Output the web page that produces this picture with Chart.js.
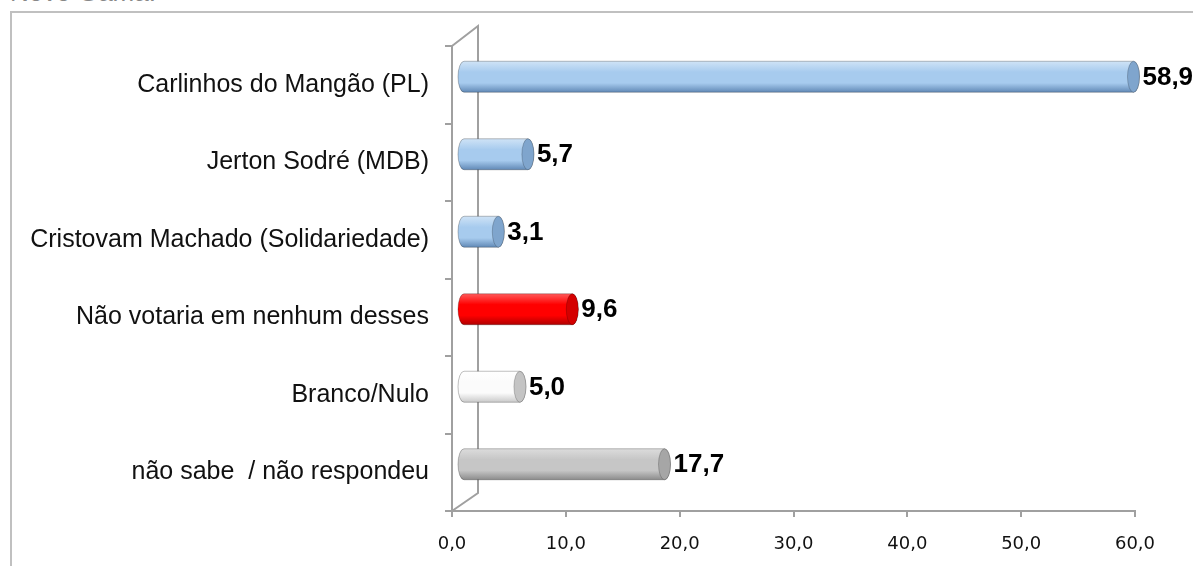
<!DOCTYPE html>
<html>
<head>
<meta charset="utf-8">
<script src="https://cdn.jsdelivr.net/npm/chart.js@4"></script>
<style>
  body { margin: 0; background: #fff; overflow: hidden; }
  #wrap { position: relative; width: 1193px; height: 566px; overflow: hidden; }
  #frame { position: absolute; left: 10px; top: 11px; width: 1300px; height: 700px; border: 2px solid #c0c0c0; }
  #title { position: absolute; left: 10px; top: -23px; font: 26px "Liberation Sans", Arial, sans-serif; color: #888; }
  canvas { position: absolute; left: 0; top: 0; }
</style>
</head>
<body>
<div id="wrap">
  <div id="title">Novo Gama:</div>
  <div id="frame"></div>
  <canvas id="grafico" width="1193" height="566"></canvas>
</div>
<script>
// dados
const categorias = [
  'Carlinhos do Mangão (PL)',
  'Jerton Sodré (MDB)',
  'Cristovam Machado (Solidariedade)',
  'Não votaria em nenhum desses',
  'Branco/Nulo',
  'não sabe  / não respondeu'
];
const valores = [58.9, 5.7, 3.1, 9.6, 5.0, 17.7];
const escalaX = [0, 10, 20, 30, 40, 50, 60];

// cores do cilindro: [topo, meio, base, tampa]
const azul = ['#cfe3f6', '#a7cbee', '#6189b6', '#7fa5cd'];
const vermelho = ['#ff5a5a', '#ff0000', '#b00000', '#d40000'];
const branco = ['#ffffff', '#fbfbfb', '#c9c9c9', '#c4c4c4'];
const cinza = ['#dcdcdc', '#c6c6c6', '#8c8c8c', '#a6a6a6'];
const coresBarras = [azul, azul, azul, vermelho, branco, cinza];

const fmt = v => v.toFixed(1).replace('.', ',');

const DX = 11, DY = -8;      // deslocamento "3D" das barras
const PROF_X = 26, PROF_Y = 20;

// parede 3D
const parede = {
  id: 'parede',
  beforeDatasetsDraw(chart) {
    const { ctx, chartArea: a } = chart;
    ctx.save();
    ctx.strokeStyle = '#a0a0a0';
    ctx.lineWidth = 2;
    ctx.beginPath();
    ctx.moveTo(a.left, a.top);
    ctx.lineTo(a.left + PROF_X, a.top - PROF_Y);
    ctx.lineTo(a.left + PROF_X, a.bottom - 18);
    ctx.lineTo(a.left, a.bottom);
    ctx.stroke();
    ctx.restore();
  }
};

// desenha as barras como cilindros
const cilindros = {
  id: 'cilindros',
  afterDatasetsDraw(chart) {
    const { ctx } = chart;
    const meta = chart.getDatasetMeta(0);
    ctx.save();
    ctx.translate(DX, DY);
    meta.data.forEach((bar, i) => {
      const c = coresBarras[i];
      const h = bar.height;
      const top = bar.y - h / 2, bot = bar.y + h / 2;
      const x0 = bar.base, x1 = bar.x;
      const rx = 6, ry = h / 2;
      const g = ctx.createLinearGradient(0, top, 0, bot);
      g.addColorStop(0, c[0]);
      g.addColorStop(0.35, c[1]);
      g.addColorStop(0.7, c[1]);
      g.addColorStop(1, c[2]);
      ctx.beginPath();
      ctx.moveTo(x0, top);
      ctx.lineTo(x1, top);
      ctx.ellipse(x1, bar.y, rx, ry, 0, -Math.PI / 2, Math.PI / 2);
      ctx.lineTo(x0, bot);
      ctx.ellipse(x0, bar.y, rx, ry, 0, Math.PI / 2, Math.PI * 1.5);
      ctx.closePath();
      ctx.fillStyle = g;
      ctx.fill();
      ctx.strokeStyle = 'rgba(0,0,0,0.25)';
      ctx.lineWidth = 1;
      ctx.stroke();
      // tampa
      ctx.beginPath();
      ctx.ellipse(x1, bar.y, rx, ry, 0, 0, Math.PI * 2);
      ctx.fillStyle = c[3];
      ctx.fill();
      ctx.strokeStyle = 'rgba(0,0,0,0.2)';
      ctx.stroke();
      // rotulo
      ctx.fillStyle = '#000';
      ctx.font = 'bold 26px "Liberation Sans", Arial, sans-serif';
      ctx.textBaseline = 'middle';
      ctx.textAlign = 'left';
      ctx.fillText(fmt(valores[i]), x1 + rx + 3, bar.y + 1);
    });
    ctx.restore();
  }
};

new Chart(document.getElementById('grafico'), {
  type: 'bar',
  data: {
    labels: categorias,
    datasets: [{
      data: valores,
      backgroundColor: 'rgba(0,0,0,0)',
      categoryPercentage: 1,
      barPercentage: 0.4
    }]
  },
  options: {
    indexAxis: 'y',
    responsive: false,
    animation: false,
    layout: { padding: { top: 46, right: 58, left: 0, bottom: 0 } },
    plugins: { legend: { display: false }, tooltip: { enabled: false } },
    scales: {
      x: {
        min: 0,
        max: 60,
        afterBuildTicks: s => { s.ticks = escalaX.map(v => ({ value: v })); },
        afterFit: s => { s.height = 55; },
        border: { color: '#a0a0a0', width: 2 },
        grid: { drawOnChartArea: false, tickLength: 6, color: '#a0a0a0', lineWidth: 2 },
        ticks: {
          callback: v => fmt(v),
          color: '#111',
          padding: 17,
          maxRotation: 0,
          font: { family: '"DejaVu Sans", Verdana, sans-serif', size: 18 }
        }
      },
      y: {
        afterFit: s => { s.width = 452; },
        border: { color: '#a0a0a0', width: 2 },
        grid: { drawOnChartArea: false, tickLength: 7, color: '#a0a0a0', lineWidth: 2, offset: true },
        ticks: {
          color: '#111',
          padding: 16,
          font: { family: '"Liberation Sans", Arial, sans-serif', size: 25 }
        }
      }
    }
  },
  plugins: [parede, cilindros]
});
</script>
</body>
</html>
